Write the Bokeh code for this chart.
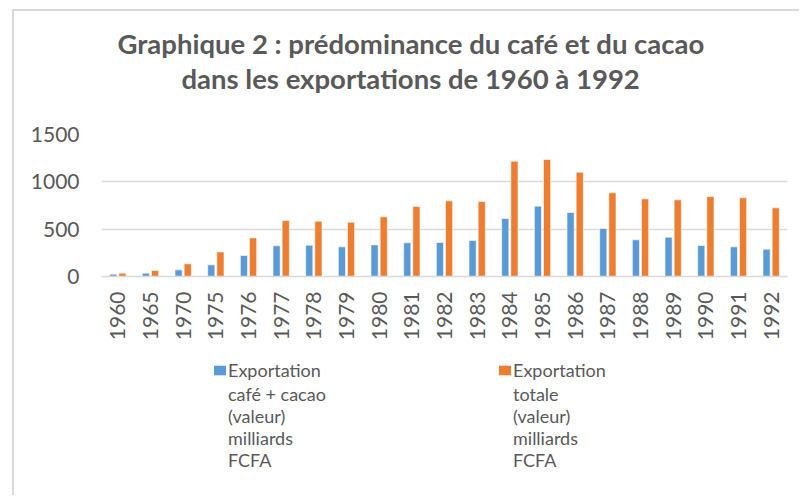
from bokeh.plotting import figure
from bokeh.layouts import column
from bokeh.models import (ColumnDataSource, FactorRange, Range1d, Legend, LegendItem,
                          FixedTicker, Title)
from bokeh.transform import dodge
from bokeh.embed import file_html
from bokeh.resources import INLINE
import math

# ---- data ----
years = ["1960", "1965", "1970", "1975", "1976", "1977", "1978", "1979", "1980", "1981",
         "1982", "1983", "1984", "1985", "1986", "1987", "1988", "1989", "1990", "1991", "1992"]
cafe_cacao = [25, 35, 70, 123, 222, 324, 331, 313, 334, 356,
              359, 380, 612, 743, 676, 507, 387, 415, 327, 313, 289]
totale = [35, 63, 134, 260, 408, 591, 584, 574, 630, 739,
          799, 792, 1218, 1236, 1102, 884, 820, 810, 845, 831, 725]
y_ticks = [0, 500, 1000, 1500]
label_cafe_head = "Exportation"
label_cafe_rest = "café + cacao\n(valeur)\nmilliards\nFCFA"
label_total_head = "Exportation"
label_total_rest = "totale\n(valeur)\nmilliards\nFCFA"
title_line1 = "Graphique 2 : prédominance du café et du cacao"
title_line2 = "dans les exportations de 1960 à 1992"

BLUE = "#5B9BD5"
ORANGE = "#ED7D31"
GREY_TXT = "#595959"
GRID = "#D9D9D9"
FONT = "Lato"

src = ColumnDataSource(dict(year=years, cafe=cafe_cacao, total=totale))

# ---- main chart ----
p = figure(frame_width=686, frame_height=142, output_backend="svg", toolbar_location=None,
           x_range=FactorRange(*years), y_range=Range1d(0, 1500),
           min_border_left=101, min_border_right=12, min_border_top=134, min_border_bottom=69)
p.outline_line_color = None
p.background_fill_color = "white"
p.border_fill_alpha = 0
p.styles = {
    "background": ("linear-gradient(#D9D9D9,#D9D9D9) 12px 9px / 2px 100% no-repeat, "
                   "linear-gradient(#D9D9D9,#D9D9D9) 12px 9px / 100% 2px no-repeat, white"),
}

bar_style = dict(line_color="white", line_alpha=0.6, line_width=1)
r1 = p.vbar(x=dodge("year", -0.14, range=p.x_range), top="cafe", width=0.22, source=src,
            fill_color=BLUE, **bar_style)
r2 = p.vbar(x=dodge("year", 0.14, range=p.x_range), top="total", width=0.22, source=src,
            fill_color=ORANGE, **bar_style)

p.x_range.range_padding = 0
p.x_range.group_padding = 0

p.yaxis.ticker = FixedTicker(ticks=y_ticks)
p.yaxis.axis_line_color = None
p.yaxis.major_tick_line_color = None
p.yaxis.minor_tick_line_color = None
p.yaxis.major_tick_out = 0
p.yaxis.major_label_standoff = 22
p.yaxis.major_label_text_font = FONT
p.yaxis.major_label_text_font_size = "21px"
p.yaxis.major_label_text_color = GREY_TXT

p.xaxis.axis_line_color = GRID
p.xaxis.axis_line_width = 1.5
p.xaxis.major_tick_line_color = None
p.xaxis.major_tick_out = 0
p.xaxis.major_label_orientation = math.pi / 2
p.xaxis.major_label_standoff = 15
p.xaxis.major_label_text_font = FONT
p.xaxis.major_label_text_font_size = "21px"
p.xaxis.major_label_text_color = GREY_TXT

p.xgrid.grid_line_color = None
p.ygrid.grid_line_color = GRID
p.ygrid.grid_line_width = 1.5

# title: spacer + two lines (first added is closest to the frame)
p.title = None
p.add_layout(Title(text=" ", text_font_size="1px", standoff=37), "above")
tstyle = dict(align="left", text_font=FONT, text_font_style="bold", text_font_size="27.5px",
              text_color=GREY_TXT, standoff=0)
p.add_layout(Title(text=title_line2, offset=80, **tstyle), "above")
p.add_layout(Title(text=title_line1, offset=16, **tstyle), "above")

# ---- legend strip ----
pl = figure(width=799, height=150, output_backend="svg", toolbar_location=None,
            x_range=Range1d(0, 1), y_range=Range1d(0, 1), x_axis_type=None, y_axis_type=None,
            min_border=0)
pl.outline_line_color = None
pl.background_fill_alpha = 0
pl.border_fill_alpha = 0
pl.xgrid.visible = False
pl.ygrid.visible = False
pl.styles = {
    "background": "linear-gradient(#D9D9D9,#D9D9D9) 12px 0px / 2px 100% no-repeat, white",
}
# legend-only renderers (zero-size quads, nothing visible is drawn in the plot)
k1 = pl.quad(left=[0], right=[0], bottom=[0], top=[0], fill_color=BLUE, line_color=None)
k2 = pl.quad(left=[0], right=[0], bottom=[0], top=[0], fill_color=ORANGE, line_color=None)
kb = pl.quad(left=[0], right=[0], bottom=[0], top=[0], fill_alpha=0, line_color=None)

leg_common = dict(orientation="horizontal", padding=0, margin=0, spacing=0,
                  border_line_alpha=0, background_fill_alpha=0,
                  glyph_width=15, glyph_height=12, label_standoff=1, label_width=269,
                  label_text_font=FONT, label_text_font_size="18px",
                  label_text_color=GREY_TXT)
legend_head = Legend(items=[LegendItem(label=label_cafe_head, renderers=[k1]),
                            LegendItem(label=label_total_head, renderers=[k2])],
                     location=(111, 114), **leg_common)
legend_rest = Legend(items=[LegendItem(label=label_cafe_rest, renderers=[kb]),
                            LegendItem(label=label_total_rest, renderers=[kb])],
                     location=(111, 24), **leg_common)
pl.add_layout(legend_head, "center")
pl.add_layout(legend_rest, "center")

layout = column(p, pl, spacing=0)
open("out.html", "w").write(file_html(layout, INLINE))
